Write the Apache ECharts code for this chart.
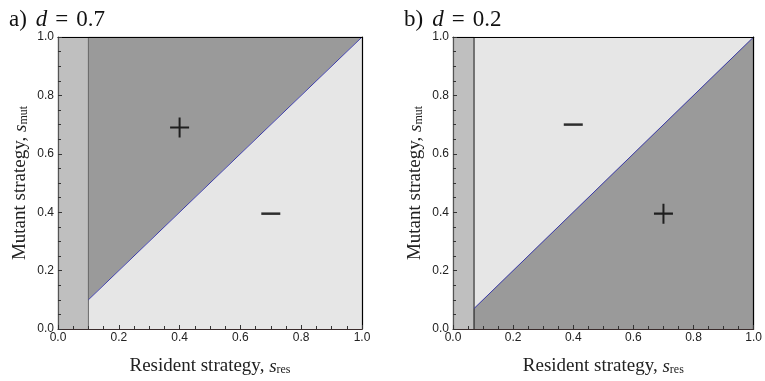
<!DOCTYPE html>
<html><head><meta charset="utf-8">
<script src="https://cdn.jsdelivr.net/npm/echarts@6/dist/echarts.min.js"></script>
<style>html,body{margin:0;padding:0;background:#fff}#c{width:765px;height:381px}</style>
</head><body><div id="c"></div>
<script>
// ---- data ----
const panelLabels = ['a)', 'b)'];
const dValues = ['0.7', '0.2'];
const stripEdge = [0.1, 0.07];          // s_res below which the strip begins
const upperIsPlus = [true, false];      // sign of region above the diagonal
const plusPos = [[0.40, 0.69], [0.70, 0.395]];
const minusPos = [[0.70, 0.395], [0.40, 0.70]];
const axisMin = 0, axisMax = 1, axisStep = 0.2;
const xName = 'Resident strategy, ';
const yName = 'Mutant strategy, ';

const DARK = '#9a9a9a', LIGHT = '#e6e6e6', STRIP = '#bfbfbf';
const serif = 'Liberation Serif';
const sans = 'Liberation Sans';

const grids = [{left:58, top:37, width:304, height:304}, {left:453, top:37, width:304, height:304}];

const nameRich = {
  t:{fontFamily:serif, fontSize:19, color:'#222'},
  s:{fontFamily:serif, fontSize:19, fontStyle:'italic', color:'#222'},
  sub:{fontFamily:serif, fontSize:12, color:'#222', verticalAlign:'bottom', padding:[7,0,0,0]}
};

const xAxes = [], yAxes = [], series = [];
grids.forEach((g, i) => {
  xAxes.push({
    gridIndex:i, type:'value', min:axisMin, max:axisMax, interval:axisStep,
    name:'{t|' + xName + '}{s|s}{sub|res}', nameLocation:'middle', nameGap:28,
    nameTextStyle:{rich:nameRich},
    axisLine:{show:true, onZero:false, lineStyle:{color:'#3a2c2c', width:1.2}},
    axisTick:{show:true, inside:true, length:4, lineStyle:{color:'#333'}},
    minorTick:{show:true, splitNumber:4, length:3, lineStyle:{color:'#333'}},
    axisLabel:{fontFamily:sans, fontSize:12, color:'#222', margin:3,
      formatter:v => v.toFixed(1)},
    splitLine:{show:false}, z:10
  });
  yAxes.push({
    gridIndex:i, type:'value', min:axisMin, max:axisMax, interval:axisStep,
    name:'{t|' + yName + '}{s|s}{sub|mut}', nameLocation:'middle', nameGap:28, nameRotate:90,
    nameTextStyle:{rich:nameRich},
    axisLine:{show:true, onZero:false, lineStyle:{color:'#555', width:1.2}},
    axisTick:{show:true, inside:true, length:4, lineStyle:{color:'#333'}},
    minorTick:{show:true, splitNumber:4, length:3, lineStyle:{color:'#333'}},
    axisLabel:{fontFamily:sans, fontSize:12, color:'#222', margin:4,
      formatter:v => v.toFixed(1)},
    splitLine:{show:false}, z:10
  });
});
// border axes (top, right)
grids.forEach((g, i) => {
  xAxes.push({gridIndex:i, type:'value', min:axisMin, max:axisMax, position:'top',
    axisLine:{show:true, onZero:false, lineStyle:{color:'#000', width:1.2}},
    axisTick:{show:false}, axisLabel:{show:false}, splitLine:{show:false}, z:10});
  yAxes.push({gridIndex:i, type:'value', min:axisMin, max:axisMax, position:'right',
    axisLine:{show:true, onZero:false, lineStyle:{color:'#000', width:1.2}},
    axisTick:{show:false}, axisLabel:{show:false}, splitLine:{show:false}, z:10});
});

grids.forEach((g, i) => {
  const e = stripEdge[i];
  const upperColor = upperIsPlus[i] ? DARK : LIGHT;
  const lowerColor = upperIsPlus[i] ? LIGHT : DARK;
  const polys = [
    {points:[[axisMin,axisMin],[e,axisMin],[e,axisMax],[axisMin,axisMax]], color:STRIP},
    {points:[[e,e],[axisMax,axisMax],[e,axisMax]], color:upperColor},
    {points:[[e,axisMin],[axisMax,axisMin],[axisMax,axisMax],[e,e]], color:lowerColor}
  ];
  series.push({
    type:'custom', xAxisIndex:i, yAxisIndex:i, silent:true, z:1,
    data: polys.map((p, k) => k),
    renderItem: (params, api) => {
      const p = polys[api.value(0)];
      return {type:'polygon', shape:{points:p.points.map(pt => api.coord(pt))},
        style:{fill:p.color, stroke:p.color, lineWidth:0.5}};
    }
  });
  series.push({type:'line', xAxisIndex:i, yAxisIndex:i, silent:true, z:3, symbol:'none',
    data:[[e,axisMin],[e,axisMax]], lineStyle:{color: i===0 ? '#666' : '#111', width:1}});
  series.push({type:'line', xAxisIndex:i, yAxisIndex:i, silent:true, z:3, symbol:'none',
    data:[[e,e],[axisMax,axisMax]], lineStyle:{color:'#3b3ba8', width:1}});
  series.push({type:'scatter', xAxisIndex:i, yAxisIndex:i, silent:true, z:5,
    symbol:'path://M0,8.5h19v2h-19z M8.5,0h2v19h-2z', symbolSize:[19,20],
    itemStyle:{color:'#000'}, data:[plusPos[i]]});
  series.push({type:'scatter', xAxisIndex:i, yAxisIndex:i, silent:true, z:5,
    symbol:'rect', symbolSize:[19,2.5],
    itemStyle:{color:'#000'}, data:[minusPos[i]]});
});

const titles = grids.map((g, i) => ({
  text:'{n|' + panelLabels[i] + '}{i|d}{e|=}{n|' + dValues[i] + '}',
  left: i === 0 ? 4 : 399, top: 3,
  textStyle:{fontWeight:'normal', rich:{
    n:{fontFamily:serif, fontSize:23, color:'#111', fontWeight:'normal'},
    i:{fontFamily:serif, fontSize:23, fontStyle:'italic', color:'#111', fontWeight:'normal', padding:[0,0,0,9]},
    e:{fontFamily:serif, fontSize:23, color:'#111', fontWeight:'normal', padding:[0,8,0,8]}
  }}
}));

const chart = echarts.init(document.getElementById('c'), null, {renderer:'canvas'});
chart.setOption({
  animation:false, backgroundColor:'#fff',
  title:titles, grid:grids, xAxis:xAxes, yAxis:yAxes, series
});
</script></body></html>
